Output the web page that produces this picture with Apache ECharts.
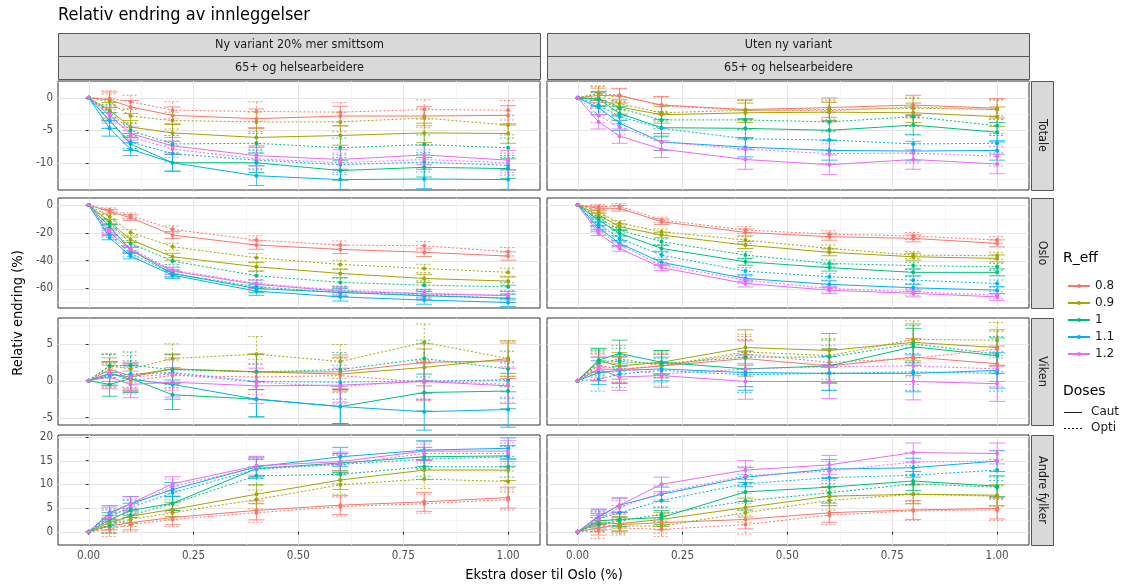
<!DOCTYPE html>
<html><head><meta charset="utf-8">
<script src="https://cdn.jsdelivr.net/npm/echarts@6/dist/echarts.min.js"></script>
<style>html,body{margin:0;padding:0;background:#fff}#c{width:1134px;height:588px}</style>
</head><body><div id="c"></div>
<script>
// ---------- data ----------
const X = [0, 0.05, 0.1, 0.2, 0.4, 0.6, 0.8, 1.0];
const R_EFF = ['0.8', '0.9', '1', '1.1', '1.2'];
const DOSES = ['Caut', 'Opti'];
const COLUMNS = ['Ny variant 20% mer smittsom', 'Uten ny variant'];
const SUBTITLE = '65+ og helsearbeidere';
const ROWS = ['Totale', 'Oslo', 'Viken', 'Andre fylker'];
const X_TICKS = [0, 0.25, 0.5, 0.75, 1];
const X_MINOR = [0.125, 0.375, 0.625, 0.875];
const Y_TICKS = [[0, -5, -10], [0, -20, -40, -60], [-5, 0, 5], [0, 5, 10, 15, 20]];
const Y_MINOR = [[2.5, -2.5, -7.5, -12.5], [-10, -30, -50, -70], [7.5, 2.5, -2.5], [2.5, 7.5, 12.5, 17.5]];

// rows: R_eff 0.8, 0.9, 1, 1.1, 1.2 ; columns: X
const totale_ny_caut = [
  [0, -0.3, -1.4, -2.7, -3.2, -2.8, -2.8, -2.7],
  [0, -1.9, -4.5, -5.4, -6.1, -5.8, -5.4, -5.5],
  [0, -3.5, -7.1, -10.0, -10.0, -11.2, -10.7, -10.9],
  [0, -4.7, -7.9, -10.0, -12.0, -12.6, -12.5, -12.6],
  [0, -2.7, -5.5, -7.4, -8.9, -9.5, -8.8, -9.6]];
const totale_ny_opti = [
  [0, -0.1, -0.6, -1.9, -2.1, -2.2, -1.8, -1.9],
  [0, -0.6, -2.8, -3.5, -3.7, -3.7, -3.1, -4.2],
  [0, -2.2, -5.0, -7.1, -7.0, -7.7, -7.2, -7.7],
  [0, -3.5, -6.8, -8.6, -9.6, -10.3, -9.9, -10.4],
  [0, -2.4, -6.0, -7.9, -9.4, -10.0, -9.5, -10.0]];
const totale_uten_caut = [
  [0, 0.4, 0.3, -1.1, -1.8, -1.5, -1.1, -1.6],
  [0, -0.1, -1.4, -2.6, -2.3, -2.2, -2.3, -2.9],
  [0, -0.2, -2.4, -4.6, -4.7, -5.0, -4.2, -5.3],
  [0, -1.5, -3.9, -6.8, -7.6, -8.1, -8.2, -8.1],
  [0, -3.7, -5.9, -7.9, -9.5, -10.3, -9.5, -10.2]];
const totale_uten_opti = [
  [0, 0.7, 0.4, -1.2, -1.9, -2.0, -1.4, -1.8],
  [0, 0.7, -0.9, -2.3, -1.9, -1.8, -1.6, -1.8],
  [0, -0.3, -1.6, -3.4, -3.4, -3.7, -2.9, -4.3],
  [0, -1.1, -2.9, -4.7, -6.3, -6.5, -7.1, -7.0],
  [0, -2.7, -4.5, -6.8, -7.9, -8.6, -8.5, -9.0]];
const oslo_ny_caut = [
  [0, -4.8, -9.1, -21.6, -28.8, -31.9, -34.0, -36.7],
  [0, -12.0, -25.0, -37.2, -44.4, -49.2, -52.8, -54.7],
  [0, -15.6, -32.4, -49.2, -60.0, -62.8, -65.2, -67.0],
  [0, -23.5, -36.7, -50.4, -61.9, -66.0, -68.3, -70.0],
  [0, -19.7, -32.4, -47.5, -57.0, -61.9, -63.8, -65.2]];
const oslo_ny_opti = [
  [0, -3.6, -7.7, -17.5, -25.2, -28.8, -29.3, -33.6],
  [0, -8.4, -19.7, -30.0, -37.9, -42.7, -45.6, -48.4],
  [0, -13.0, -27.6, -40.3, -50.8, -55.6, -57.6, -58.8],
  [0, -21.6, -34.8, -49.2, -58.8, -62.8, -64.7, -67.0],
  [0, -18.0, -31.2, -46.8, -56.4, -61.2, -63.5, -64.7]];
const oslo_uten_caut = [
  [0, -2.4, -2.4, -12.0, -19.7, -22.8, -24.0, -27.6],
  [0, -7.2, -15.6, -21.6, -28.8, -34.0, -37.2, -38.4],
  [0, -10.8, -20.4, -31.2, -40.8, -45.0, -48.4, -48.4],
  [0, -16.3, -27.6, -41.2, -52.8, -57.0, -59.5, -61.2],
  [0, -20.4, -31.2, -45.0, -56.4, -61.2, -63.5, -66.0]];
const oslo_uten_opti = [
  [0, -1.2, -1.0, -10.8, -18.0, -21.0, -22.3, -25.2],
  [0, -4.8, -13.2, -19.2, -25.2, -31.2, -36.0, -36.5],
  [0, -9.1, -18.0, -26.4, -36.0, -42.0, -43.6, -44.4],
  [0, -13.9, -24.0, -36.0, -47.5, -51.6, -54.0, -56.4],
  [0, -18.0, -28.8, -43.2, -54.0, -60.0, -62.4, -64.7]];
const viken_ny_caut = [
  [0, 1.5, 0.7, 1.6, 1.2, 1.2, 2.5, 2.7],
  [0, 0.9, 0.5, 1.6, 1.2, 0.9, 1.8, 3.0],
  [0, -0.5, 0.3, -1.9, -2.5, -3.5, -1.6, -1.4],
  [0, 1.0, 0.2, -0.5, -2.5, -3.5, -4.2, -3.9],
  [0, 0.5, -0.5, -0.2, -0.7, -0.6, -0.1, -0.7]];
const viken_ny_opti = [
  [0, 2.0, 0.0, 0.7, 0.5, 0.7, -0.2, 0.2],
  [0, 2.0, 1.6, 3.0, 3.6, 2.6, 5.2, 3.0],
  [0, 2.0, 2.1, 1.5, 1.2, 1.5, 3.0, 1.6],
  [0, 0.7, 0.9, 1.1, -0.1, -0.2, 0.0, 0.0],
  [0, 1.0, 0.5, 0.9, -0.2, -0.8, 0.0, -0.5]];
const viken_uten_caut = [
  [0, 1.6, 1.5, 2.0, 3.0, 2.0, 3.2, 2.3],
  [0, 2.7, 2.0, 2.5, 4.5, 4.1, 5.2, 4.5],
  [0, 2.8, 3.7, 2.5, 1.6, 2.0, 4.6, 3.4],
  [0, 1.1, 1.4, 1.6, 1.1, 1.0, 1.0, 1.4],
  [0, 1.6, 0.5, 0.7, -0.1, -0.1, -0.1, -0.4]];
const viken_uten_opti = [
  [0, 2.1, 1.6, 2.0, 3.6, 2.5, 3.0, 4.3],
  [0, 2.3, 3.0, 2.0, 3.9, 3.4, 5.6, 5.5],
  [0, 2.5, 2.6, 2.3, 3.2, 3.2, 5.0, 3.6],
  [0, 0.2, 0.9, 1.4, 0.8, 1.0, 1.2, 1.0],
  [0, 2.0, 1.6, 0.9, 1.6, 1.9, 2.0, 1.6]];
const andre_ny_caut = [
  [0, 1.2, 1.9, 3.0, 4.5, 5.6, 6.3, 7.2],
  [0, 1.9, 3.3, 4.7, 7.9, 10.9, 13.0, 13.0],
  [0, 2.5, 4.5, 6.0, 13.3, 14.5, 15.8, 16.0],
  [0, 4.0, 5.9, 8.9, 13.7, 15.8, 17.2, 17.6],
  [0, 3.7, 5.9, 10.1, 13.9, 14.8, 17.0, 17.0]];
const andre_ny_opti = [
  [0, 0.5, 1.5, 2.6, 4.0, 5.3, 5.9, 6.8],
  [0, 1.4, 2.6, 4.0, 6.8, 9.9, 11.1, 10.6],
  [0, 1.2, 3.5, 5.9, 11.8, 12.1, 13.7, 13.7],
  [0, 3.3, 5.1, 8.2, 13.2, 14.2, 15.3, 15.8],
  [0, 3.0, 5.4, 9.6, 13.5, 14.2, 16.5, 16.5]];
const andre_uten_caut = [
  [0, 0.8, 1.5, 1.9, 2.6, 4.0, 4.6, 4.9],
  [0, 1.9, 1.7, 2.6, 5.1, 7.5, 7.9, 7.7],
  [0, 2.3, 2.6, 3.0, 8.4, 9.4, 10.7, 9.6],
  [0, 3.1, 5.6, 7.9, 11.5, 13.2, 13.5, 14.9],
  [0, 3.3, 5.6, 10.0, 13.0, 14.1, 16.7, 16.5]];
const andre_uten_opti = [
  [0, 0.1, 0.8, 0.5, 1.5, 3.5, 4.4, 4.6],
  [0, 1.5, 1.2, 1.2, 4.0, 6.6, 7.9, 7.5],
  [0, 1.5, 2.3, 3.7, 6.5, 8.2, 10.1, 9.4],
  [0, 2.8, 4.0, 6.6, 10.1, 11.4, 11.9, 13.0],
  [0, 2.6, 5.1, 8.2, 11.8, 12.8, 14.7, 14.9]];

// error bar half widths per x
const err_totale_ny = [0, 1.2, 1.0, 1.3, 1.5, 1.5, 1.5, 1.5];
const err_totale_uten = [0, 1.1, 1.1, 1.3, 1.5, 1.5, 1.5, 1.5];
const err_oslo_ny = [0, 1.5, 2.0, 2.5, 3.0, 3.0, 3.0, 3.0];
const err_oslo_uten = [0, 1.5, 2.0, 2.0, 2.5, 2.5, 2.5, 2.5];
const err_viken_ny = [0, 1.6, 1.8, 2.0, 2.4, 2.3, 2.5, 2.4];
const err_viken_uten = [0, 1.6, 1.8, 1.6, 2.4, 2.3, 2.5, 2.4];
const err_andre_ny = [0, 1.5, 1.5, 1.5, 2.0, 2.0, 2.0, 2.2];
const err_andre_uten = [0, 1.5, 1.5, 1.5, 2.0, 2.0, 2.0, 2.2];

// ---------- layout / style ----------
const COLORS = ['#F8766D', '#A3A500', '#00BF7D', '#00B0F6', '#E76BF3'];
const FONT = '"DejaVu Sans Condensed", "DejaVu Sans", sans-serif';
const FONT2 = '"DejaVu Sans", sans-serif';
const COL_LEFT = [58, 547];
const PANEL_W = 482;
const ROW_TOP = [81, 198, 318, 435];
const ROW_H = [109, 110, 107, 110];
const X_RANGE = [-0.073, 1.076];
const Y_RANGES = [[-14.2, 2.6], [-74, 5], [-6.0, 8.5], [-2.8, 20.4]];
const DASH = [2, 2];

const PANELS = [
  [[totale_ny_caut, totale_ny_opti, err_totale_ny], [totale_uten_caut, totale_uten_opti, err_totale_uten]],
  [[oslo_ny_caut, oslo_ny_opti, err_oslo_ny], [oslo_uten_caut, oslo_uten_opti, err_oslo_uten]],
  [[viken_ny_caut, viken_ny_opti, err_viken_ny], [viken_uten_caut, viken_uten_opti, err_viken_uten]],
  [[andre_ny_caut, andre_ny_opti, err_andre_ny], [andre_uten_caut, andre_uten_opti, err_andre_uten]]
];

const chart = echarts.init(document.getElementById('c'), null, {renderer: 'canvas'});
const grids = [], xAxes = [], yAxes = [], series = [];

function gridRender(params, api) {
  const cs = params.coordSys;
  const v = api.value(0), k = api.value(1);
  const major = (k === 0 || k === 2);
  const st = {stroke: major ? '#E6E6E6' : '#F2F2F2', lineWidth: major ? 1 : 0.8};
  if (k < 2) {
    const px = Math.round(api.coord([v, 0])[0]) + 0.5;
    return {type: 'line', silent: true, shape: {x1: px, y1: cs.y, x2: px, y2: cs.y + cs.height}, style: st};
  }
  const py = Math.round(api.coord([0, v])[1]) + 0.5;
  return {type: 'line', silent: true, shape: {x1: cs.x, y1: py, x2: cs.x + cs.width, y2: py}, style: st};
}

function errRenderFactory(color, dashed) {
  return function (params, api) {
    const x = api.value(0), y = api.value(1), e = api.value(2);
    if (!e) return null;
    const t = api.coord([x, y + e]), b = api.coord([x, y - e]);
    const hw = 8;
    const st = {stroke: color, lineWidth: 1, lineDash: dashed ? DASH : null, opacity: 0.8};
    return {type: 'group', children: [
      {type: 'line', shape: {x1: t[0], y1: t[1], x2: b[0], y2: b[1]}, style: st},
      {type: 'line', shape: {x1: t[0] - hw, y1: t[1], x2: t[0] + hw, y2: t[1]}, style: st},
      {type: 'line', shape: {x1: b[0] - hw, y1: b[1], x2: b[0] + hw, y2: b[1]}, style: st}
    ]};
  };
}

for (let r = 0; r < 4; r++) {
  for (let c = 0; c < 2; c++) {
    const gi = r * 2 + c;
    grids.push({left: COL_LEFT[c], top: ROW_TOP[r], width: PANEL_W, height: ROW_H[r],
      show: true, borderColor: '#333333', borderWidth: 1, backgroundColor: '#ffffff',
      containLabel: false, outerBoundsMode: 'none'});
    xAxes.push({type: 'value', gridIndex: gi, min: X_RANGE[0], max: X_RANGE[1],
      axisLine: {show: false}, splitLine: {show: false},
      axisTick: {show: r === 3, customValues: X_TICKS, length: 3, lineStyle: {color: '#333333'}},
      axisLabel: {show: r === 3, customValues: X_TICKS, formatter: v => Number(v).toFixed(2),
        color: '#4D4D4D', fontSize: 11.5, margin: 5, fontFamily: FONT}});
    yAxes.push({type: 'value', gridIndex: gi, min: Y_RANGES[r][0], max: Y_RANGES[r][1],
      axisLine: {show: false}, splitLine: {show: false},
      axisTick: {show: c === 0, customValues: Y_TICKS[r], length: 3, lineStyle: {color: '#333333'}},
      axisLabel: {show: c === 0, customValues: Y_TICKS[r], color: '#4D4D4D', fontSize: 11.5, margin: 5, fontFamily: FONT}});

    // grid lines
    const gl = [];
    X_MINOR.forEach(v => gl.push([v, 1]));
    Y_MINOR[r].forEach(v => gl.push([v, 3]));
    X_TICKS.forEach(v => gl.push([v, 0]));
    Y_TICKS[r].forEach(v => gl.push([v, 2]));
    series.push({type: 'custom', name: 'grid', xAxisIndex: gi, yAxisIndex: gi, data: gl, renderItem: gridRender,
      silent: true, z: 0, animation: false, tooltip: {show: false}});

    const [caut, opti, err] = PANELS[r][c];
    [caut, opti].forEach((set, d) => {
      set.forEach((vals, k) => {
        series.push({type: 'custom', name: 'err ' + R_EFF[k] + ' ' + DOSES[d], xAxisIndex: gi, yAxisIndex: gi, z: 1,
          data: X.map((x, i) => [x, vals[i], err[i]]), renderItem: errRenderFactory(COLORS[k], d === 1),
          silent: true, animation: false});
      });
    });
    [caut, opti].forEach((set, d) => {
      set.forEach((vals, k) => {
        series.push({type: 'line', name: R_EFF[k], xAxisIndex: gi, yAxisIndex: gi, z: 2,
          data: X.map((x, i) => [x, vals[i]]),
          symbol: 'circle', symbolSize: 4, showSymbol: true,
          itemStyle: {color: COLORS[k]},
          lineStyle: {color: COLORS[k], width: 1, type: d === 1 ? DASH : 'solid'},
          animation: false, silent: true});
      });
    });
  }
}

// strips, titles, doses key
const graphics = [];
graphics.push({type: 'text', left: 58, top: 6, style: {text: 'Relativ endring av innleggelser', font: '18px ' + FONT, fill: '#000'}});
for (let c = 0; c < 2; c++) {
  const x0 = COL_LEFT[c] + 0.5;
  graphics.push({type: 'rect', shape: {x: x0, y: 33.5, width: PANEL_W, height: 23}, style: {fill: '#D9D9D9', stroke: '#555', lineWidth: 1}, z: 1});
  graphics.push({type: 'text', x: x0 + PANEL_W / 2, y: 45, style: {text: COLUMNS[c], font: '12.5px ' + FONT, fill: '#1A1A1A', textAlign: 'center', textVerticalAlign: 'middle'}, z: 2});
  graphics.push({type: 'rect', shape: {x: x0, y: 56.5, width: PANEL_W, height: 23}, style: {fill: '#D9D9D9', stroke: '#555', lineWidth: 1}, z: 1});
  graphics.push({type: 'text', x: x0 + PANEL_W / 2, y: 68, style: {text: SUBTITLE, font: '12.5px ' + FONT, fill: '#1A1A1A', textAlign: 'center', textVerticalAlign: 'middle'}, z: 2});
}
for (let r = 0; r < 4; r++) {
  graphics.push({type: 'rect', shape: {x: 1031.5, y: ROW_TOP[r] + 0.5, width: 22, height: ROW_H[r]}, style: {fill: '#D9D9D9', stroke: '#555', lineWidth: 1}, z: 1});
  graphics.push({type: 'text', x: 1042.5, y: ROW_TOP[r] + ROW_H[r] / 2, rotation: -Math.PI / 2,
    style: {text: ROWS[r], font: '12.5px ' + FONT, fill: '#1A1A1A', textAlign: 'center', textVerticalAlign: 'middle'}, z: 2});
}
graphics.push({type: 'text', x: 18, y: 313, rotation: Math.PI / 2,
  style: {text: 'Relativ endring (%)', font: '14.5px ' + FONT, fill: '#000', textAlign: 'center', textVerticalAlign: 'middle'}});
graphics.push({type: 'text', x: 544, y: 575,
  style: {text: 'Ekstra doser til Oslo (%)', font: '14.5px ' + FONT, fill: '#000', textAlign: 'center', textVerticalAlign: 'middle'}});
graphics.push({type: 'text', x: 1063, y: 258, style: {text: 'R_eff', font: '14px ' + FONT2, fill: '#000', textVerticalAlign: 'middle'}});
graphics.push({type: 'text', x: 1063, y: 391, style: {text: 'Doses', font: '14px ' + FONT2, fill: '#000', textVerticalAlign: 'middle'}});
const DOSE_Y = [412, 428];
DOSES.forEach((name, d) => {
  graphics.push({type: 'line', shape: {x1: 1064, y1: DOSE_Y[d] + 0.5, x2: 1082, y2: DOSE_Y[d] + 0.5},
    style: {stroke: '#1A1A1A', lineWidth: 1, lineDash: d === 1 ? DASH : null}});
  graphics.push({type: 'text', x: 1091, y: DOSE_Y[d], style: {text: name, font: '12px ' + FONT2, fill: '#1A1A1A', textVerticalAlign: 'middle'}});
});

chart.setOption({
  animation: false,
  backgroundColor: '#ffffff',
  grid: grids, xAxis: xAxes, yAxis: yAxes, series: series,
  legend: [
    {data: R_EFF, orient: 'vertical', left: 1062, top: 275, itemWidth: 22, itemHeight: 5, itemGap: 5,
      textStyle: {fontSize: 12, color: '#1A1A1A', fontFamily: FONT2, lineHeight: 12}, selectedMode: false}
  ],
  graphic: graphics
});
</script>
</body></html>
